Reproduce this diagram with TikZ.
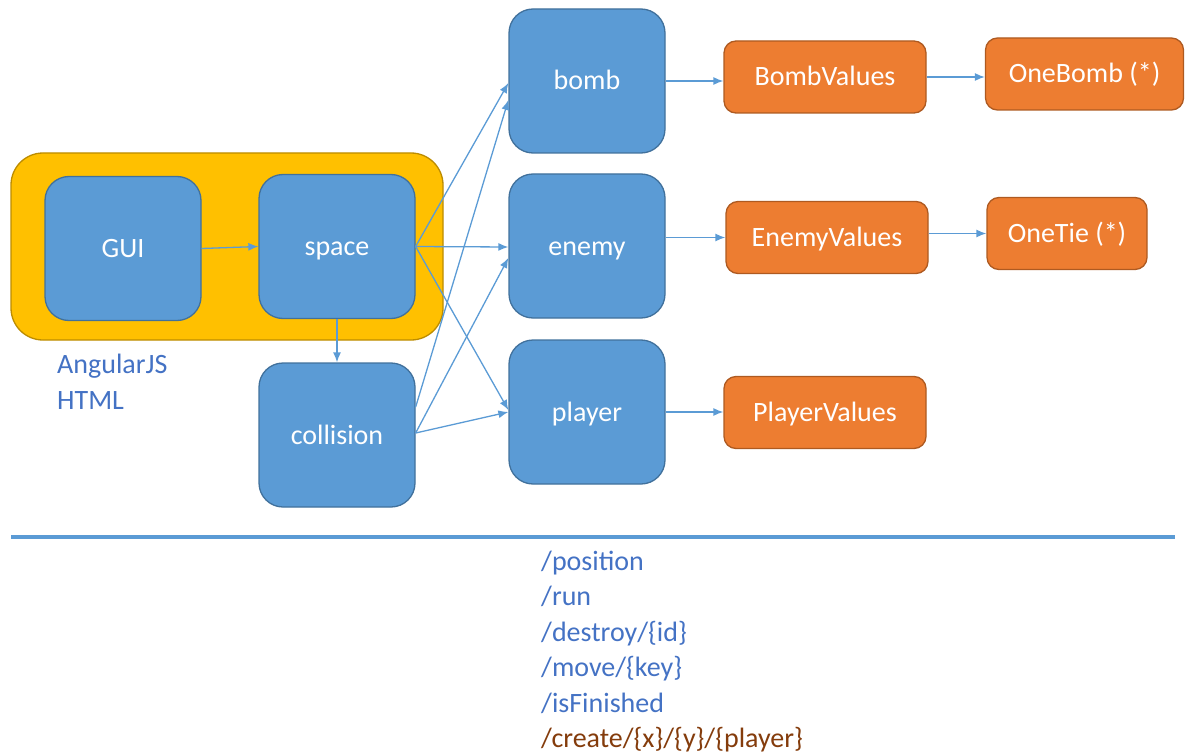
\documentclass[tikz,border=0pt]{standalone}
\usepackage{fontspec}
\setmainfont{Carlito}
\usetikzlibrary{arrows.meta,calc}
\definecolor{bfill}{HTML}{5B9BD5}
\definecolor{bdraw}{HTML}{41719C}
\definecolor{ofill}{HTML}{ED7D31}
\definecolor{odraw}{HTML}{AE5A21}
\definecolor{yfill}{HTML}{FFC000}
\definecolor{ydraw}{HTML}{BC8C00}
\definecolor{tblue}{HTML}{4472C4}
\definecolor{tbrown}{HTML}{843C0C}
\tikzset{
  bluebox/.style={draw=bdraw, fill=bfill, line width=1.3pt, rounded corners=24pt,
    minimum width=156pt, minimum height=144pt, inner sep=0pt, text=white,
    text height=18pt, text depth=0pt,
    font=\fontsize{28}{30}\selectfont},
  orangebox/.style={draw=odraw, fill=ofill, line width=1.3pt, rounded corners=12pt,
    minimum height=72pt, inner sep=0pt, text=white,
    text height=18pt, text depth=0pt,
    font=\fontsize{28}{30}\selectfont},
  conn/.style={draw=bfill, line width=1.3pt, -{Latex[length=10pt,width=8pt]}},
  lbl/.style={anchor=base west, inner sep=0pt, font=\fontsize{28}{30}\selectfont},
}
\begin{document}
\begin{tikzpicture}[x=1pt,y=-1pt]
\useasboundingbox (0,0) rectangle (1185,754);
\node[draw=ydraw, fill=yfill, line width=1.3pt, rounded corners=32pt,
  minimum width=432pt, minimum height=187pt] (frame) at (227,246.5) {};
\node[bluebox] (gui) at (123,248.5) {GUI};
\node[bluebox] (space) at (337,246.5) {space};
\node[bluebox] (collision) at (337,435) {collision};
\node[bluebox] (bomb) at (587,81) {bomb};
\node[bluebox] (enemy) at (587,246) {enemy};
\node[bluebox] (player) at (587,412) {player};
\node[orangebox, minimum width=202pt] (bombv) at (825,77) {BombValues};
\node[orangebox, minimum width=198pt] (oneb) at (1084.5,74) {OneBomb (*)};
\node[orangebox, minimum width=202pt] (enemyv) at (827,237.5) {EnemyValues};
\node[orangebox, minimum width=160pt] (onet) at (1067,233.5) {OneTie (*)};
\node[orangebox, minimum width=202pt] (playerv) at (825,412.5) {PlayerValues};
\node[lbl, text=tblue] (ang) at (57,373) {AngularJS};
\node[lbl, text=tblue] (html) at (57,409) {HTML};
\coordinate (la) at (11,537);
\coordinate (lb) at (1175,537);
\draw[draw=bfill, line width=4pt] (la) -- (lb);
\node[lbl, text=tblue] (r1) at (541,570) {/position};
\node[lbl, text=tblue] (r2) at (541,605.5) {/run};
\node[lbl, text=tblue] (r3) at (541,641) {/destroy/\{id\}};
\node[lbl, text=tblue] (r4) at (541,676.5) {/move/\{key\}};
\node[lbl, text=tblue] (r5) at (541,712) {/isFinished};
\node[lbl, text=tbrown] (r6) at (541,747) {/create/\{x\}/\{y\}/\{player\}};
% connectors
\draw[conn] (gui.east) -- (space.west);
\draw[conn] (space.south) -- (collision.north);
\draw[conn] (space.east) -- ([yshift=-2pt]bomb.west);
\draw[conn] (space.east) -- ([yshift=-1pt]enemy.west);
\draw[conn] (space.east) -- ([yshift=2pt]player.west);
\draw[conn] ([yshift=28pt]collision.east) -- ([yshift=-19pt]bomb.west);
\draw[conn] ([yshift=2pt]collision.east) -- ([yshift=-12pt]enemy.west);
\draw[conn] ([yshift=2pt]collision.east) -- (player.west);
\draw[conn] (bomb.east) -- (bomb.east -| bombv.west);
\draw[conn] (bombv.east) -- (bombv.east -| oneb.west);
\draw[conn] (enemyv.west -| enemy.east) -- (enemyv.west);
\draw[conn] (enemyv.east |- onet.west) -- (onet.west);
\draw[conn] (player.east) -- (player.east -| playerv.west);
\end{tikzpicture}
\end{document}
